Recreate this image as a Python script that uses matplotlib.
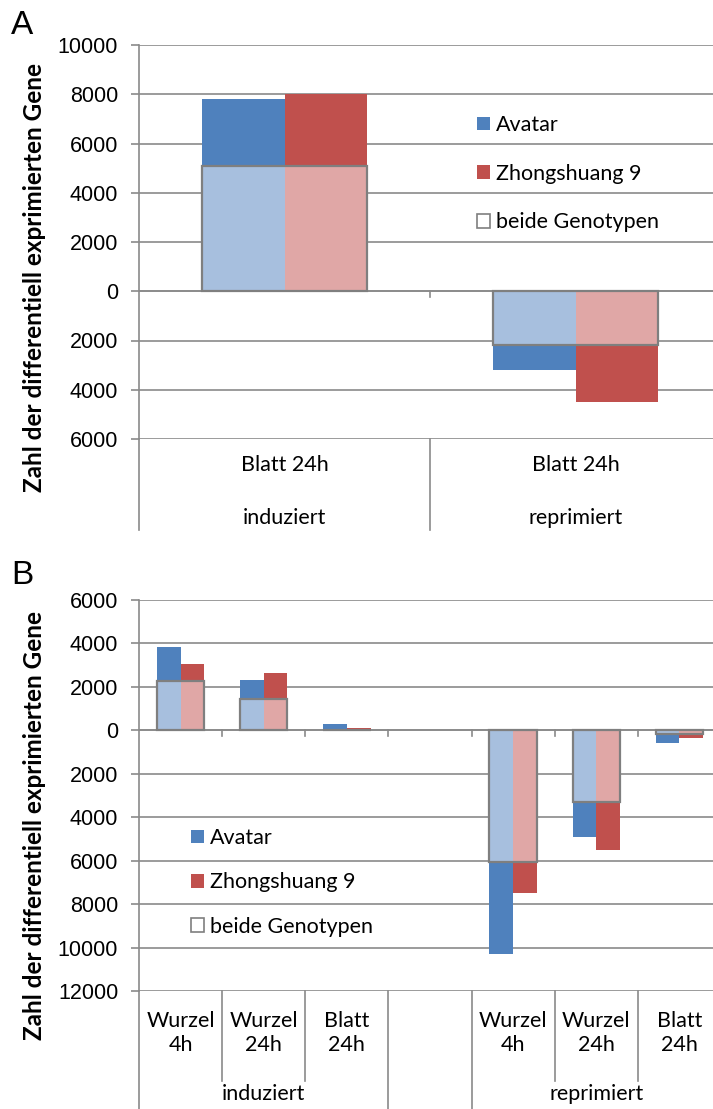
import numpy as np
import matplotlib.pyplot as plt
from matplotlib.patches import Patch
from matplotlib.transforms import blended_transform_factory

W, H = 713, 1109

# panel A
groups_a = ['induziert', 'reprimiert']
cats_a = ['Blatt 24h', 'Blatt 24h']
avatar_a = [7800, -3200]
zhong_a = [8000, -4500]
beide_a = [5100, -2200]
yticks_a = [-6000, -4000, -2000, 0, 2000, 4000, 6000, 8000, 10000]

# panel B
groups_b = ['induziert', '', 'reprimiert']
cats_b = ['Wurzel\n4h', 'Wurzel\n24h', 'Blatt\n24h', '', 'Wurzel\n4h', 'Wurzel\n24h', 'Blatt\n24h']
avatar_b = [3850, 2300, 300, np.nan, -10300, -4900, -600]
zhong_b = [3050, 2650, 100, np.nan, -7500, -5500, -350]
beide_b = [2250, 1450, 20, np.nan, -6050, -3300, -150]
yticks_b = [-12000, -10000, -8000, -6000, -4000, -2000, 0, 2000, 4000, 6000]

labels = ['Avatar', 'Zhongshuang 9', 'beide Genotypen']
c_av, c_zh = '#4F81BD', '#C0504D'
c_av_l, c_zh_l = '#A7BFDE', '#E0A7A6'
grey = '#8a8a8a'
txt_font = 'Lato'
num_font = 'Liberation Sans'

fig = plt.figure(figsize=(W / 100, H / 100), dpi=100)


def fy(p):
    return 1 - p / H


def panel(top, bottom, ylims, yticks, cats, groups, group_spans, av, zh, both,
          cat_y, grp_y, inner_end, outer_end, leg_xy, leg_space):
    x0, x1 = 139, 721
    ax = fig.add_axes([x0 / W, fy(bottom), (x1 - x0) / W, (bottom - top) / H])
    n = len(cats)
    x = np.arange(n)
    w = 0.285
    ax.bar(x - w / 2, av, w, color=c_av, zorder=2)
    ax.bar(x + w / 2, zh, w, color=c_zh, zorder=2)
    ax.bar(x - w / 2, both, w, color=c_av_l, zorder=3)
    ax.bar(x + w / 2, both, w, color=c_zh_l, zorder=3)
    ax.bar(x, both, 2 * w, facecolor='none', edgecolor='#7f7f7f', lw=1.6, zorder=4)

    ax.set_xlim(-0.5, n - 0.5)
    ax.set_ylim(*ylims)
    ax.set_yticks(yticks)
    ax.set_yticklabels([str(abs(v)) for v in yticks], fontfamily=num_font, fontsize=15.5)
    ax.tick_params(axis='y', length=6, width=1.2, color=grey, pad=9)
    ax.set_xticks([])
    ax.grid(axis='y', color=grey, lw=1.2, zorder=0)
    ax.set_axisbelow(True)
    for s in ['top', 'right', 'bottom']:
        ax.spines[s].set_visible(False)
    ax.spines['left'].set_color(grey)
    ax.spines['left'].set_linewidth(1.2)
    ax.axhline(0, color=grey, lw=1.2, zorder=1)

    # small ticks on the zero line between categories
    tr0 = blended_transform_factory(ax.transData, fig.transFigure)
    zero_px = top + (ylims[1] - 0) / (ylims[1] - ylims[0]) * (bottom - top)
    for b in np.arange(0.5, n - 0.5):
        ax.plot([b, b], [fy(zero_px), fy(zero_px + 6)], color=grey, lw=1.2,
                transform=tr0, clip_on=False)

    # category axis below the plot
    outer = [-0.5] + [s[1] for s in group_spans]
    for b in np.arange(-0.5, n + 0.5):
        end = outer_end if any(np.isclose(b, outer)) else inner_end
        ax.plot([b, b], [fy(bottom), fy(end)], color=grey, lw=1.2,
                transform=tr0, clip_on=False)
    for xi, c in zip(x, cats):
        ax.text(xi, fy(cat_y), c, transform=tr0, ha='center', va='center',
                fontfamily=txt_font, fontsize=15.5, linespacing=1.25)
    for (a, b), g in zip(group_spans, groups):
        ax.text((a + b) / 2, fy(grp_y), g, transform=tr0, ha='center', va='center',
                fontfamily=txt_font, fontsize=15.5)

    handles = [Patch(facecolor=c_av), Patch(facecolor=c_zh),
               Patch(facecolor='white', edgecolor='#7f7f7f', lw=1.2)]
    ax.legend(handles, labels, loc='upper left', bbox_to_anchor=(leg_xy[0] / W, fy(leg_xy[1])),
              bbox_transform=fig.transFigure, frameon=False, prop={'family': txt_font, 'size': 15.5},
              handlelength=0.6, handleheight=0.6, handletextpad=0.3, labelspacing=leg_space,
              borderpad=0, borderaxespad=0)
    return ax


axA = panel(45, 439, (-6000, 10000), yticks_a, cats_a, groups_a,
            [(-0.5, 0.5), (0.5, 1.5)], avatar_a, zhong_a, beide_a,
            cat_y=465, grp_y=518, inner_end=530, outer_end=530,
            leg_xy=(477, 115), leg_space=1.33)

axB = panel(600, 991, (-12000, 6000), yticks_b, cats_b, groups_b,
            [(-0.5, 2.5), (2.5, 3.5), (3.5, 6.5)], avatar_b, zhong_b, beide_b,
            cat_y=1033, grp_y=1094, inner_end=1081, outer_end=1109,
            leg_xy=(191, 828), leg_space=1.13)

ylab = 'Zahl der differentiell exprimierten Gene'
fig.text(35 / W, fy(277), ylab, rotation=90, ha='center', va='center',
         fontfamily=txt_font, fontweight='bold', fontsize=17.5)
fig.text(35 / W, fy(826), ylab, rotation=90, ha='center', va='center',
         fontfamily=txt_font, fontweight='bold', fontsize=17.5)
fig.text(11 / W, fy(25), 'A', ha='left', va='center', fontfamily=num_font, fontsize=24)
fig.text(11 / W, fy(576), 'B', ha='left', va='center', fontfamily=num_font, fontsize=24)

fig.savefig('out.png', dpi=100)
